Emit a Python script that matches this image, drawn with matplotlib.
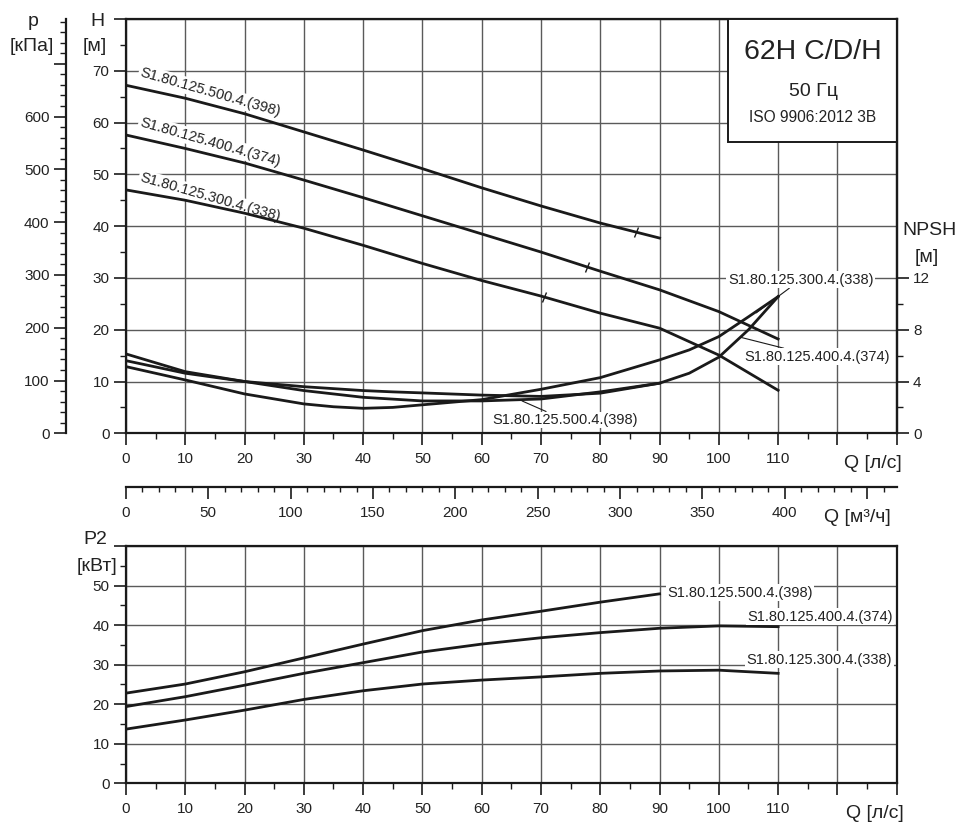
import numpy as np
import matplotlib
matplotlib.use('Agg')
import matplotlib.pyplot as plt
from matplotlib.ticker import MultipleLocator, FixedLocator
from matplotlib.markers import MarkerStyle
from matplotlib.transforms import Affine2D
from matplotlib.patches import Rectangle

plt.rcParams['font.family'] = ['Liberation Sans', 'DejaVu Sans']

# head curves H [m] vs Q [l/s]
q_500 = [0, 10, 20, 30, 40, 50, 60, 70, 80, 90]
q_all = [0, 10, 20, 30, 40, 50, 60, 70, 80, 90, 100, 110]
h500 = [67.2, 64.7, 61.7, 58.2, 54.7, 51.1, 47.4, 43.9, 40.6, 37.7]
h400 = [57.6, 55.0, 52.2, 48.9, 45.5, 42.0, 38.5, 35.0, 31.3, 27.7, 23.5, 18.2]
h300 = [47.0, 45.0, 42.5, 39.6, 36.3, 32.8, 29.5, 26.5, 23.2, 20.3, 15.1, 8.3]
bep_q = [86.0, 77.7, 70.5]

# NPSH [m]
q_n500 = [0, 10, 20, 30, 40, 50, 60, 70, 80, 90]
q_n = [0, 10, 20, 30, 35, 40, 45, 50, 60, 70, 80, 90, 95, 100, 105, 110]
npsh500 = [6.13, 4.76, 4.0, 3.3, 2.78, 2.5, 2.5, 2.65, 3.2, 3.87]
npsh400 = [5.61, 4.64, 4.0, 3.6, 3.45, 3.3, 3.2, 3.12, 2.95, 2.85, 3.1, 3.87,
           4.64, 5.88, 8.0, 10.56]
npsh300 = [5.15, 4.12, 3.04, 2.27, 2.05, 1.93, 2.0, 2.2, 2.6, 3.4, 4.3, 5.67,
           6.44, 7.47, 9.0, 10.56]

# power P2 [kW]
p500 = [22.8, 25.1, 28.2, 31.7, 35.2, 38.6, 41.3, 43.5, 45.8, 47.9]
p400 = [19.4, 21.9, 24.8, 27.8, 30.5, 33.2, 35.2, 36.8, 38.1, 39.2, 39.8, 39.6]
p300 = [13.7, 16.0, 18.5, 21.2, 23.4, 25.1, 26.1, 26.9, 27.8, 28.4, 28.6, 27.8]

names = ['S1.80.125.500.4.(398)', 'S1.80.125.400.4.(374)', 'S1.80.125.300.4.(338)']

ink = '#1a1a1a'
txt = '#222222'
gridc = '#5a5a5a'
W, H = 959, 823

fig = plt.figure(figsize=(9.59, 8.23), dpi=100)


def fx(px):
    return px / W


def fy(py):
    return 1 - py / H


def style_axes(ax):
    for s in ax.spines.values():
        s.set_linewidth(1.6)
        s.set_color(ink)
    ax.tick_params(which='major', direction='out', length=8.8, width=1.2,
                   color=ink, labelsize=11, labelcolor=txt)
    ax.tick_params(which='minor', direction='out', length=4.4, width=1.0,
                   color=ink)
    ax.tick_params(axis='y', pad=3)
    ax.tick_params(axis='x', pad=5)


# ---------------- top chart ----------------
ax1 = fig.add_axes([fx(126), fy(433.3), (896.7 - 126) / W, (433.3 - 19) / H])
ax1.set_xlim(0, 130)
ax1.set_ylim(0, 80)
style_axes(ax1)
ax1.set_xticks(np.arange(0, 131, 10))
ax1.set_xticklabels([str(v) if v <= 110 else '' for v in range(0, 131, 10)])
ax1.xaxis.set_minor_locator(MultipleLocator(5))
ax1.set_yticks(np.arange(0, 81, 10))
ax1.set_yticklabels([str(v) if v <= 70 else '' for v in range(0, 81, 10)])
ax1.yaxis.set_minor_locator(MultipleLocator(5))
ax1.grid(True, which='major', color=gridc, lw=1.0)
ax1.set_axisbelow(True)

for q, h in [(q_500, h500), (q_all, h400), (q_all, h300)]:
    ax1.plot(q, h, color=ink, lw=2.0, zorder=3)

tick_m = MarkerStyle('|', transform=Affine2D().rotate_deg(-18))
for bq, (q, h) in zip(bep_q, [(q_500, h500), (q_all, h400), (q_all, h300)]):
    ax1.plot(bq, np.interp(bq, q, h), marker=tick_m, ms=8, mew=1.0,
             color=ink, zorder=4)

for name, (lq, lh) in zip(names, [(2.2, 69.0), (2.2, 59.4), (2.2, 48.7)]):
    ax1.text(lq, lh, name, rotation=-16, rotation_mode='anchor', ha='left',
             va='baseline', fontsize=10.5, color=txt, zorder=2.5,
             bbox=dict(boxstyle='square,pad=0.1', fc='white', ec='none'))

ax1.add_patch(Rectangle((101.6, 56.3), 28.4, 23.7, fc='white', ec=ink,
                        lw=1.4, zorder=6))
ax1.text(115.9, 73.6, '62H C/D/H', ha='center', va='center', fontsize=20.5,
         color=txt, zorder=7)
ax1.text(115.9, 66.0, '50 Гц', ha='center', va='center', fontsize=14,
         color=txt, zorder=7)
ax1.text(115.9, 60.9, 'ISO 9906:2012 3B', ha='center', va='center',
         fontsize=11.2, color=txt, zorder=7)

# NPSH axis on the right
axn = ax1.twinx()
axn.set_ylim(0, 32)
style_axes(axn)
for s in ['left', 'top', 'bottom']:
    axn.spines[s].set_visible(False)
axn.set_yticks([0, 4, 8, 12])
axn.yaxis.set_minor_locator(FixedLocator([2, 6, 10]))
for q, n in [(q_n500, npsh500), (q_n, npsh400), (q_n, npsh300)]:
    axn.plot(q, n, color=ink, lw=2.0, zorder=3)

lab_bbox = dict(boxstyle='square,pad=0.1', fc='white', ec='none')
arr = dict(arrowstyle='-', lw=0.8, color=ink, shrinkA=0, shrinkB=0)
axn.annotate(names[2], xy=(106.3, 9.3), xytext=(113.8, 11.86), ha='center',
             va='center', fontsize=10.5, color=txt, bbox=lab_bbox,
             arrowprops=arr, zorder=5)
axn.annotate(names[1], xy=(103.8, 7.4), xytext=(116.6, 5.92), ha='center',
             va='center', fontsize=10.5, color=txt, bbox=lab_bbox,
             arrowprops=arr, zorder=5)
axn.annotate(names[0], xy=(66.8, 2.5), xytext=(74.1, 1.03), ha='center',
             va='center', fontsize=10.5, color=txt, bbox=lab_bbox,
             arrowprops=arr, zorder=5)

# pressure axis on the far left
axp = ax1.twinx()
axp.set_ylim(0, 80 * 9.81)
style_axes(axp)
for s in ['right', 'top', 'bottom']:
    axp.spines[s].set_visible(False)
axp.spines['left'].set_visible(True)
axp.spines['left'].set_position(('outward', 43.2))
axp.yaxis.set_ticks_position('left')
axp.set_yticks(np.arange(0, 701, 100))
axp.set_yticklabels([str(v) if v <= 600 else '' for v in range(0, 701, 100)])
axp.yaxis.set_minor_locator(FixedLocator(np.arange(0, 781, 20)))

# m3/h axis
sec = ax1.secondary_xaxis((433.3 - 487.3) / 414.3,
                          functions=(lambda q: q * 3.6, lambda m: m / 3.6))
sec.spines['bottom'].set_linewidth(1.6)
sec.spines['bottom'].set_color(ink)
sec.set_xticks(np.arange(0, 451, 50))
sec.set_xticklabels([str(v) if v <= 400 else '' for v in range(0, 451, 50)])
sec.xaxis.set_minor_locator(MultipleLocator(10))
sec.tick_params(which='major', direction='out', length=8.8, width=1.2,
                color=ink, labelsize=11, labelcolor=txt, pad=5)
sec.tick_params(which='minor', direction='out', length=3.6, width=1.0,
                color=ink)

# ---------------- bottom chart ----------------
ax2 = fig.add_axes([fx(126), fy(783.3), (896.7 - 126) / W, (783.3 - 546) / H])
ax2.set_xlim(0, 130)
ax2.set_ylim(0, 60)
style_axes(ax2)
ax2.set_xticks(np.arange(0, 131, 10))
ax2.set_xticklabels([str(v) if v <= 110 else '' for v in range(0, 131, 10)])
ax2.xaxis.set_minor_locator(MultipleLocator(5))
ax2.set_yticks(np.arange(0, 61, 10))
ax2.set_yticklabels([str(v) if v <= 50 else '' for v in range(0, 61, 10)])
ax2.yaxis.set_minor_locator(MultipleLocator(5))
ax2.grid(True, which='major', color=gridc, lw=1.0)
ax2.set_axisbelow(True)

for q, p in [(q_500, p500), (q_all, p400), (q_all, p300)]:
    ax2.plot(q, p, color=ink, lw=2.0, zorder=3)

for name, (lq, lp) in zip(names, [(91.3, 48.2), (104.8, 42.1), (104.7, 31.2)]):
    ax2.text(lq, lp, name, ha='left', va='center', fontsize=10.5, color=txt,
             zorder=5, bbox=lab_bbox)

# ---------------- axis titles ----------------
fs = 14
fig.text(fx(33), fy(21), 'p', ha='center', va='center', fontsize=fs, color=txt)
fig.text(fx(32), fy(46.7), '[кПа]', ha='center', va='center', fontsize=fs, color=txt)
fig.text(fx(97), fy(21), 'H', ha='center', va='center', fontsize=fs, color=txt)
fig.text(fx(95), fy(46.7), '[м]', ha='center', va='center', fontsize=fs, color=txt)
fig.text(fx(929), fy(230.7), 'NPSH', ha='center', va='center', fontsize=fs, color=txt)
fig.text(fx(926.7), fy(257), '[м]', ha='center', va='center', fontsize=fs, color=txt)
fig.text(fx(873), fy(463), 'Q [л/с]', ha='center', va='center', fontsize=fs, color=txt)
fig.text(fx(857), fy(517), 'Q [м³/ч]', ha='center', va='center', fontsize=fs, color=txt)
fig.text(fx(95), fy(540), 'P2', ha='center', va='center', fontsize=fs, color=txt)
fig.text(fx(97), fy(566.7), '[кВт]', ha='center', va='center', fontsize=fs, color=txt)
fig.text(fx(875), fy(813), 'Q [л/с]', ha='center', va='center', fontsize=fs, color=txt)

fig.savefig('out.png', dpi=100, facecolor='white')
